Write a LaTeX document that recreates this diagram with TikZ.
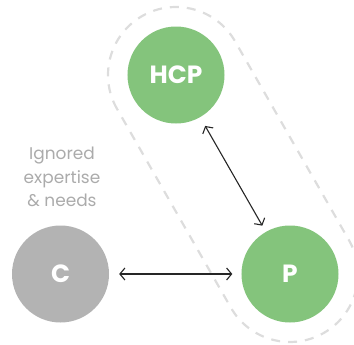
\documentclass[tikz,border=0pt]{standalone}
\usepackage{fontspec}
\setmainfont{Poppins}
\usetikzlibrary{arrows.meta}
\definecolor{grn}{HTML}{84C47C}
\definecolor{gry}{HTML}{B3B3B3}
\definecolor{txtgry}{HTML}{ABABAB}
\definecolor{dashgry}{HTML}{DDDDDD}
\tikzset{
  actor/.style={circle, minimum size=97bp, inner sep=0pt, text=white, font=\fontsize{25}{28}\selectfont\bfseries},
  link/.style={draw=black!85, line width=1.1bp, {Straight Barb[length=5bp,width=12bp]}-{Straight Barb[length=5bp,width=12bp]}},
  group/.style={draw=dashgry, line width=2.2bp, dash pattern=on 9bp off 8bp},
}
\begin{document}
\begin{tikzpicture}[x=1bp,y=-1bp]
\useasboundingbox (0,0) rectangle (354,345);
% dashed stadium around HCP and P
\coordinate (hc) at (176,75);
\coordinate (pc) at (290,274);
\begin{scope}[shift={(hc)}, rotate={-60.2}]
  \draw[group] (0,68) arc (90:270:68) -- ++(229.3,0) arc (-90:90:68) -- cycle;
\end{scope}
\node[actor, fill=grn] (hcp) at (hc) {HCP};
\node[actor, fill=grn] (p) at (pc) {P};
\node[actor, fill=gry] (c) at (60.5,274) {C};
\node[text=txtgry, align=center, font=\fontsize{17}{23.5}\selectfont] (lbl) at (62,177) {Ignored\\expertise\\\& needs};
\draw[link, shorten <=10bp, shorten >=7bp] (hcp) -- (p);
\draw[link, shorten <=10bp, shorten >=9bp] (c) -- (p);
\end{tikzpicture}
\end{document}
